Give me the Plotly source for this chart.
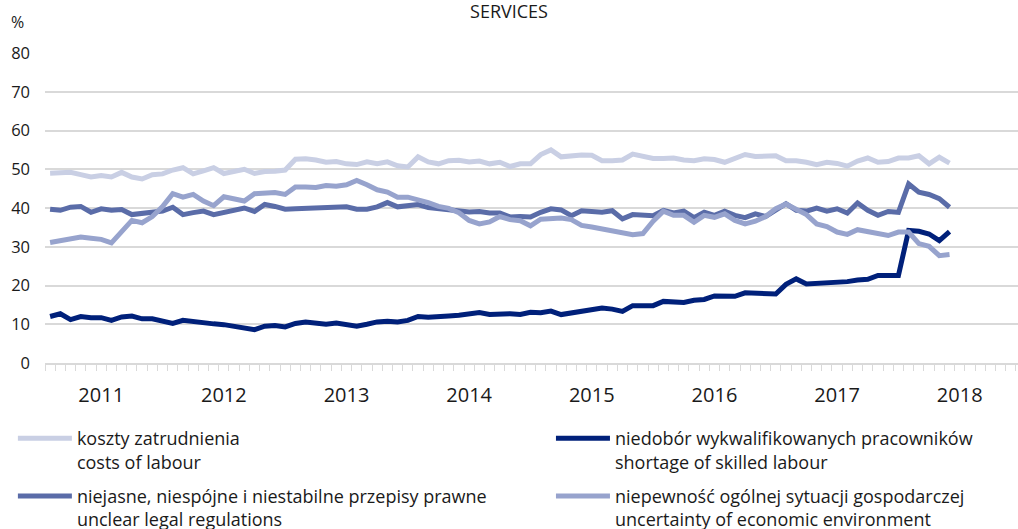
import plotly.graph_objects as go

# miesięczne dane od stycznia 2011 (indeks 0 = 2011-01)
years = ["2011", "2012", "2013", "2014", "2015", "2016", "2017", "2018"]

costs_of_labour = [
    49.0, 49.2, 49.2, 48.6, 48.0, 48.4, 48.0, 49.2, 48.0, 47.5, 48.6, 48.8,
    49.8, 50.4, 48.8, 49.6, 50.4, 48.9, 49.3, 50.0, 48.9, 49.4, 49.5, 49.8,
    52.6, 52.7, 52.4, 51.8, 52.0, 51.4, 51.2, 51.9, 51.4, 51.9, 50.9, 50.6,
    53.2, 51.9, 51.4, 52.2, 52.3, 51.9, 52.1, 51.4, 51.8, 50.7, 51.4, 51.4,
    53.8, 55.0, 53.2, 53.5, 53.7, 53.6, 52.2, 52.2, 52.4, 53.9, 53.3, 52.8,
    52.8, 52.9, 52.4, 52.2, 52.7, 52.5, 51.8, 52.9, 53.8, 53.3, 53.4, 53.5,
    52.2, 52.2, 51.8, 51.2, 51.8, 51.5, 50.8, 52.1, 52.9, 51.8, 52.0, 52.9,
    52.9, 53.5, 51.4, 53.1, 51.6,
]
shortage_of_skilled_labour = [
    12.0, 12.7, 11.2, 12.0, 11.7, 11.7, 11.0, 11.9, 12.1, 11.4, 11.4, 10.7,
    10.2, 11.0, 10.6, 10.3, 10.1, 9.9, 9.5, 9.3, 8.6, 9.5, 9.7, 9.3,
    10.2, 10.6, 10.3, 10.0, 10.3, 9.9, 9.5, 10.0, 10.6, 10.8, 10.6, 11.0,
    12.0, 11.8, 11.8, 12.1, 12.3, 12.5, 13.0, 12.5, 12.7, 12.7, 12.5, 13.1,
    13.0, 13.4, 12.5, 13.0, 13.4, 13.8, 14.2, 13.9, 13.3, 14.8, 14.9, 14.8,
    15.9, 15.8, 15.6, 16.2, 16.4, 17.3, 17.3, 17.2, 18.1, 18.1, 17.9, 17.8,
    20.3, 21.7, 20.4, 20.5, 20.6, 20.8, 21.0, 21.4, 21.6, 22.6, 22.6, 22.6,
    34.2, 34.0, 33.3, 31.6, 33.9,
]
unclear_legal_regulations = [
    39.7, 39.4, 40.2, 40.4, 38.9, 39.8, 39.4, 39.6, 38.3, 38.7, 38.8, 39.2,
    40.2, 38.3, 38.8, 39.2, 38.3, 38.9, 39.3, 40.0, 39.1, 40.9, 40.4, 39.7,
    39.8, 39.9, 40.2, 40.1, 40.4, 40.3, 39.7, 39.7, 40.3, 41.4, 40.3, 40.5,
    40.9, 40.1, 39.8, 39.5, 39.0, 39.0, 39.1, 38.7, 38.7, 37.7, 37.8, 37.7,
    38.9, 39.8, 39.5, 38.0, 39.3, 39.0, 38.9, 39.3, 37.2, 38.3, 38.0, 38.0,
    39.4, 38.7, 39.2, 37.5, 38.9, 38.1, 39.2, 38.1, 37.5, 38.5, 37.8, 39.4,
    41.1, 39.4, 39.2, 40.0, 39.2, 39.8, 38.7, 41.3, 39.4, 38.1, 39.1, 38.9,
    46.2, 44.1, 43.5, 42.4, 40.2,
]
uncertainty_of_economic_environment = [
    31.1, 31.5, 32.1, 32.5, 32.2, 31.9, 31.0, 33.9, 36.8, 36.2, 37.8, 40.4,
    43.7, 42.8, 43.5, 41.8, 40.6, 42.9, 42.2, 41.8, 43.7, 43.8, 44.0, 43.5,
    45.4, 45.4, 45.3, 45.8, 45.6, 46.0, 47.1, 46.0, 44.7, 44.1, 42.8, 42.8,
    42.2, 41.4, 40.4, 39.9, 38.8, 36.8, 35.9, 36.4, 37.8, 37.0, 36.7, 35.4,
    37.1, 37.2, 37.4, 37.0, 35.5, 35.1, 34.6, 33.8, 33.3, 33.1, 33.4, 36.6,
    39.2, 38.1, 38.1, 36.3, 38.1, 37.6, 38.5, 36.8, 35.9, 36.6, 37.8, 39.8,
    41.0, 39.8, 38.3, 35.9, 35.2, 33.8, 33.2, 34.4, 33.8, 33.2, 32.9, 33.8,
    33.8, 30.8, 30.1, 27.7, 28.0,
]

series = [
    ("koszty zatrudnienia<br>costs of labour", costs_of_labour, "#c9cfe4", "legend"),
    ("niedobór wykwalifikowanych pracowników<br>shortage of skilled labour",
     shortage_of_skilled_labour, "#00207a", "legend2"),
    ("niejasne, niespójne i niestabilne przepisy prawne<br>unclear legal regulations",
     unclear_legal_regulations, "#5a6ca8", "legend"),
    ("niepewność ogólnej sytuacji gospodarczej<br>uncertainty of economic environment",
     uncertainty_of_economic_environment, "#97a3cd", "legend2"),
]

fig = go.Figure()

for name, values, color, legend_id in series:
    fig.add_trace(go.Scatter(
        x=list(range(len(values))),
        y=values,
        mode="lines",
        name=name,
        legend=legend_id,
        legendgroup=name,
        line=dict(color=color, width=5),
        hovertemplate="%{y}<extra></extra>",
    ))

legend_style = dict(
    orientation="v",
    xanchor="left",
    yanchor="top",
    valign="top",
    itemwidth=54,
    tracegroupgap=8,
    bgcolor="rgba(0,0,0,0)",
    font=dict(family="Open Sans", size=18, color="#1a1a1a"),
)

fig.update_layout(
    width=1018,
    height=529,
    margin=dict(l=45, r=0, t=53, b=166, autoexpand=False),
    paper_bgcolor="white",
    plot_bgcolor="white",
    title=dict(
        text="SERVICES",
        x=0.5, xanchor="center",
        y=0.977, yanchor="middle",
        font=dict(family="Open Sans", size=18, color="#1a1a1a"),
    ),
    xaxis=dict(
        range=[-0.5, 94.7],
        tickvals=[5 + 12 * i for i in range(len(years))],
        ticktext=years,
        ticks="",
        showgrid=False,
        zeroline=False,
        showline=True,
        linecolor="#d9d9d9",
        linewidth=2,
        ticklabelstandoff=13,
        tickfont=dict(family="Open Sans", size=20, color="#1a1a1a"),
        minor=dict(tick0=-0.5, dtick=1, ticks="outside", ticklen=6,
                   tickcolor="#d9d9d9", tickwidth=1, showgrid=False),
        fixedrange=True,
    ),
    yaxis=dict(
        range=[0, 80],
        dtick=10,
        showgrid=True,
        gridcolor="#d9d9d9",
        gridwidth=2,
        zeroline=False,
        ticks="",
        ticklabelstandoff=14,
        tickfont=dict(family="Open Sans", size=16.5, color="#1a1a1a"),
        fixedrange=True,
    ),
    legend=dict(legend_style, x=-0.033, y=-0.184),
    legend2=dict(legend_style, x=0.52, y=-0.184),
    annotations=[
        dict(text="%", xref="paper", yref="paper", x=-0.028, y=1.1,
             xanchor="center", yanchor="middle", showarrow=False,
             font=dict(family="Open Sans", size=16, color="#1a1a1a")),
    ],
)

# bez domyślnego marginesu strony, żeby wykres zajmował całe okno
fig.write_html(
    "out.html",
    config={"displayModeBar": False},
    post_script="document.body.style.margin = '0';",
)
